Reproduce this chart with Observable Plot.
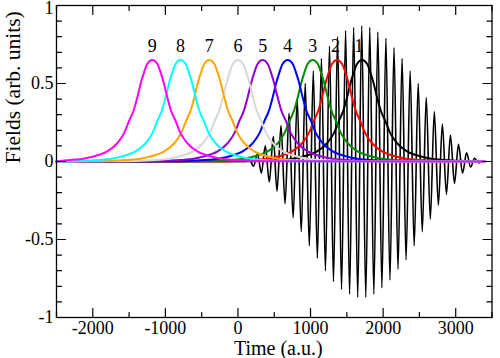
<!DOCTYPE html>
<html><head><meta charset="utf-8">
<script src="https://cdn.jsdelivr.net/npm/d3@7"></script>
<script src="https://cdn.jsdelivr.net/npm/@observablehq/plot@0.6"></script>
<style>body{margin:0;background:#fff}</style>
</head><body><div id="chart"></div>
<script>
// ---- axes ----
const xTicks = [-2000, -1000, 0, 1000, 2000, 3000];
const xMinorTicks = [-2500, -1500, -500, 500, 1500, 2500, 3500];
const yTicks = [-1, -0.5, 0, 0.5, 1];
const yTickLabels = ["-1", "-0.5", "0", "0.5", "1"];
const yMinorTicks = [-0.9, -0.8, -0.7, -0.6, -0.4, -0.3, -0.2, -0.1, 0.1, 0.2, 0.3, 0.4, 0.6, 0.7, 0.8, 0.9];
const xLabel = "Time (a.u.)";
const yLabel = "Fields (arb. units)";
const tStart = -2500, tEnd = 3400;

// ---- pulses (labels, centres, colours) ----
const pulseNames = ["1", "2", "3", "4", "5", "6", "7", "8", "9"];
const pulseCenters = [1710, 1365, 1030, 685, 340, 0, -395, -790, -1180];
const pulseLabelX = [1665, 1345, 1030, 685, 340, 0, -395, -790, -1180];
const pulseLabelY = [0.74, 0.74, 0.74, 0.74, 0.74, 0.74, 0.74, 0.74, 0.74];
const pulseColors = ["#000000", "#ff0000", "#008b00", "#0000ff", "#9400d3", "#d8d8d8", "#ffa500", "#00ffff", "#ff00ff"];
// common pulse profile (offset from centre, field value)
const profileOffset = [-2000, -1400, -1130, -950, -850, -720, -620, -483, -390, -320, -255, -207, -160, -115, -70, 0, 70, 115, 160, 207, 255, 320, 390, 483, 620, 720, 850, 950, 1130, 1400, 2000, 6000];
const profileValue  = [0.001, 0.004, 0.01, 0.017, 0.028, 0.045, 0.065, 0.117, 0.18, 0.26, 0.33, 0.41, 0.50, 0.57, 0.625, 0.65, 0.625, 0.57, 0.50, 0.41, 0.33, 0.26, 0.18, 0.117, 0.065, 0.045, 0.028, 0.017, 0.01, 0.004, 0.001, 0];

// ---- oscillating field: extrema ----
const oscT = [-2500, 100, 160, 215, 270, 322, 377, 432, 487, 538, 593, 649, 704, 760, 816, 872, 927, 983, 1038, 1094, 1150, 1205, 1261, 1316, 1372, 1427, 1483, 1538, 1594, 1650, 1705, 1761, 1816, 1872, 1927, 1983, 2038, 2094, 2150, 2205, 2261, 2316, 2372, 2428, 2483, 2539, 2594, 2650, 2705, 2761, 2816, 2872, 2927, 2983, 3038, 3094, 3150, 3205, 3260, 3316, 3370, 3400];
const oscV = [0, 0, 0.012, -0.03, 0.05, -0.075, 0.10, -0.13, 0.16, -0.19, 0.23, -0.27, 0.31, -0.36, 0.40, -0.45, 0.50, -0.54, 0.58, -0.62, 0.66, -0.70, 0.74, -0.77, 0.80, -0.82, 0.84, -0.85, 0.86, -0.87, 0.87, -0.87, 0.86, -0.85, 0.83, -0.81, 0.79, -0.76, 0.73, -0.69, 0.66, -0.63, 0.58, -0.54, 0.50, -0.45, 0.41, -0.37, 0.32, -0.28, 0.24, -0.21, 0.17, -0.14, 0.11, -0.075, 0.055, -0.035, 0.02, -0.01, 0.004, 0];

// ---- build tables ----
const osc = oscT.map((t, i) => ({t, v: oscV[i]}));
const pulses = [];
pulseNames.forEach((name, k) => {
  const pts = profileOffset.map((o, i) => ({t: pulseCenters[k] + o, v: profileValue[i]}))
    .filter(d => d.t > tStart && d.t < tEnd);
  pts.unshift({t: tStart, v: 0});
  pts.push({t: tEnd, v: 0});
  pts.forEach(d => pulses.push({...d, name, color: pulseColors[k]}));
});
const labels = pulseNames.map((name, k) => ({name, x: pulseLabelX[k], y: pulseLabelY[k]}));
const yTopTick = yTicks.filter(d => d === 1);
const yOtherTicks = yTicks.filter(d => d !== 1);

const tickShape = {draw(context, l) { context.moveTo(0, 0); context.lineTo(0, -l); }};
const tickOpts = {stroke: "black", strokeWidth: 1.2, shape: tickShape, anchor: "start"};
const yFmt = d => yTickLabels[yTicks.indexOf(d)];

const chart = Plot.plot({
  width: 500, height: 358,
  marginLeft: 56, marginRight: 8.5, marginTop: 5, marginBottom: 41,
  style: {fontFamily: "'Liberation Serif', 'Times New Roman', serif", fontSize: "18px", background: "#fff", color: "#000"},
  x: {domain: [-2500, 3500]},
  y: {domain: [-1, 1]},
  color: {type: "identity"},
  marks: [
    Plot.line(osc, {x: "t", y: "v", stroke: "black", strokeWidth: 1.6, curve: "monotone-x"}),
    Plot.line(pulses, {x: "t", y: "v", z: "name", stroke: "color", strokeWidth: 2, curve: "monotone-x"}),
    Plot.text(labels, {x: "x", y: "y", text: "name", fontSize: 18, lineAnchor: "middle"}),
    // inward ticks on all four sides
    Plot.vector(xTicks, {x: d => d, frameAnchor: "bottom", rotate: 0, length: 9, ...tickOpts}),
    Plot.vector(xMinorTicks, {x: d => d, frameAnchor: "bottom", rotate: 0, length: 5, ...tickOpts}),
    Plot.vector(xTicks, {x: d => d, frameAnchor: "top", rotate: 180, length: 9, ...tickOpts}),
    Plot.vector(xMinorTicks, {x: d => d, frameAnchor: "top", rotate: 180, length: 5, ...tickOpts}),
    Plot.vector(yTicks, {y: d => d, frameAnchor: "left", rotate: 90, length: 9, ...tickOpts}),
    Plot.vector(yMinorTicks, {y: d => d, frameAnchor: "left", rotate: 90, length: 5, ...tickOpts}),
    Plot.vector(yTicks, {y: d => d, frameAnchor: "right", rotate: -90, length: 9, ...tickOpts}),
    Plot.vector(yMinorTicks, {y: d => d, frameAnchor: "right", rotate: -90, length: 5, ...tickOpts}),
    Plot.axisX(xTicks, {tickSize: 0, tickPadding: 4, tickFormat: d => String(d), label: null, fontSize: 18}),
    Plot.axisY(yOtherTicks, {tickSize: 0, tickPadding: 3, tickFormat: yFmt, label: null, fontSize: 18}),
    Plot.axisY(yTopTick, {tickSize: 0, tickPadding: 3, tickFormat: yFmt, label: null, fontSize: 18, dy: 2.5}),
    Plot.text([xLabel], {text: d => d, frameAnchor: "bottom", dy: 31, dx: 4, lineAnchor: "middle", fontSize: 20}),
    Plot.text([yLabel], {text: d => d, frameAnchor: "left", dx: -43, dy: 2, rotate: -90, lineAnchor: "middle", fontSize: 21.5}),
    Plot.frame({stroke: "black", strokeWidth: 1.3})
  ]
});
document.getElementById("chart").appendChild(chart);
</script>
</body></html>
